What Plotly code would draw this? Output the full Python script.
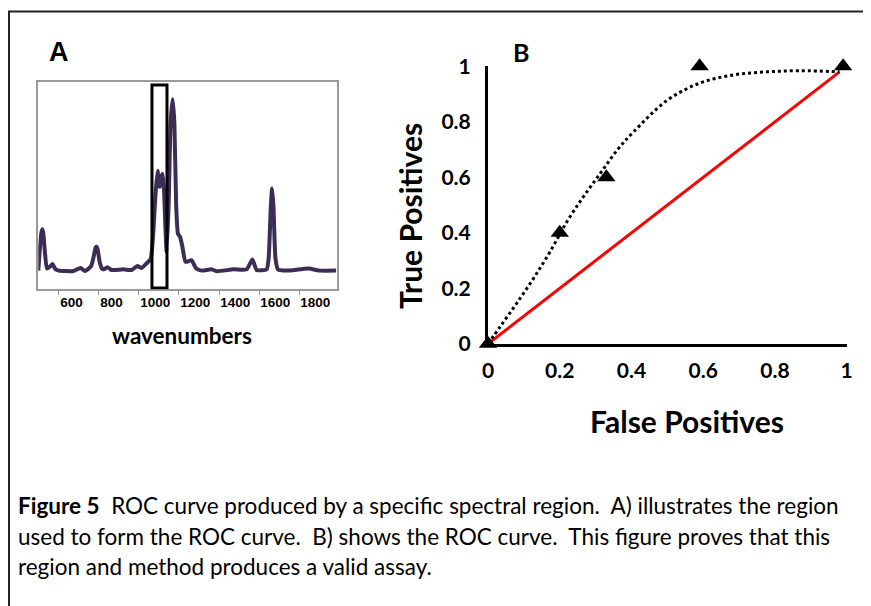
import plotly.graph_objects as go

W, H = 871, 606
OFF = 8  # page body margin of the html page

# ---------- Panel A: spectrum ----------
wavenumbers = [497, 505, 512, 517, 522, 530, 540, 555, 568, 582, 600, 672, 708, 730, 760, 772, 783, 788, 793, 804, 815, 825,
               842, 863, 922, 963, 992, 1013, 1038, 1058, 1070, 1082, 1093, 1100, 1105, 1111, 1118, 1125, 1132, 1138,
               1148, 1158, 1168, 1177, 1186, 1195, 1205, 1217, 1233, 1263, 1285, 1313, 1363, 1388, 1472,
               1538, 1567, 1588, 1638, 1648, 1658, 1665, 1672, 1682, 1695, 1738, 1847, 1905, 1985]
intensity = [0.09, 0.2, 0.27, 0.289, 0.27, 0.18, 0.1, 0.109, 0.122, 0.098, 0.09, 0.088, 0.103, 0.088, 0.11, 0.15, 0.2,
             0.205, 0.195, 0.13, 0.1, 0.096, 0.106, 0.093, 0.096, 0.093, 0.112, 0.103, 0.125, 0.145, 0.25, 0.45,
             0.571, 0.5, 0.494, 0.54, 0.555, 0.48, 0.3, 0.181, 0.4, 0.8, 0.917, 0.8, 0.4, 0.267, 0.254, 0.205,
             0.132, 0.14, 0.101, 0.09, 0.096, 0.087, 0.096, 0.096, 0.144, 0.093, 0.096, 0.15, 0.38, 0.485, 0.4,
             0.15, 0.095, 0.09, 0.1, 0.09, 0.09]
region = [1065, 1140]
spectrum_ticks = [600, 800, 1000, 1200, 1400, 1600, 1800]

# ---------- Panel B: ROC ----------
fp_points = [0, 0.2, 0.33, 0.59, 0.99]
tp_points = [0, 0.4, 0.6, 1.0, 1.0]
trend_fp = [0, 0.034, 0.08, 0.127, 0.173, 0.22, 0.266, 0.313, 0.36, 0.406, 0.5, 0.592, 0.685, 0.778, 0.87, 0.98]
trend_tp = [0, 0.062, 0.146, 0.236, 0.332, 0.44, 0.53, 0.614, 0.698, 0.764, 0.878, 0.94, 0.969, 0.98, 0.984, 0.98]
chance_fp = [0, 0.98]
chance_tp = [0, 0.98]
roc_ticks = [0, 0.2, 0.4, 0.6, 0.8, 1]
roc_ticktext = ["0", "0.2", "0.4", "0.6", "0.8", "1"]

caption_lines = [
    "<b>Figure 5</b>  ROC curve produced by a specific spectral region.  A) illustrates the region",
    "used to form the ROC curve.  B) shows the ROC curve.  This figure proves that this",
    "region and method produces a valid assay.",
]


def px(x):
    return (x - OFF) / W


def py(y):
    return 1 - (y - OFF) / H


fig = go.Figure()

fig.add_trace(go.Scatter(
    x=wavenumbers, y=intensity, mode="lines",
    line=dict(color="#3b2d55", width=4, shape="spline", smoothing=0.5),
    xaxis="x", yaxis="y", hoverinfo="skip", showlegend=False,
))

fig.add_trace(go.Scatter(
    x=chance_fp, y=chance_tp, mode="lines",
    line=dict(color="#ff0000", width=3),
    xaxis="x2", yaxis="y2", showlegend=False, cliponaxis=False,
))
fig.add_trace(go.Scatter(
    x=trend_fp, y=trend_tp, mode="lines",
    line=dict(color="black", width=3, dash="dot", shape="spline"),
    xaxis="x2", yaxis="y2", showlegend=False, cliponaxis=False,
))
fig.add_trace(go.Scatter(
    x=fp_points, y=tp_points, mode="markers",
    marker=dict(symbol="triangle-up", size=16, color="black"),
    xaxis="x2", yaxis="y2", showlegend=False, cliponaxis=False,
))

lato = "Lato, Carlito, Calibri, sans-serif"

fig.update_layout(
    width=W, height=H, autosize=False,
    margin=dict(l=0, r=0, t=0, b=0, pad=0, autoexpand=False),
    paper_bgcolor="white", plot_bgcolor="white",
    xaxis=dict(
        domain=[px(38.3), px(336.7)], range=[497, 1988], anchor="y",
        showline=True, mirror=True, linecolor="#9a9a9a", linewidth=1.5,
        showgrid=False, zeroline=False,
        tickmode="array", tickvals=spectrum_ticks,
        ticks="outside", ticklen=4, tickcolor="#9a9a9a", tickwidth=1,
        ticklabelposition="outside right",
        tickfont=dict(family="Liberation Sans, Arial", size=13.5, color="black", weight="bold"),
    ),
    yaxis=dict(
        domain=[py(289.3), py(81.7)], range=[0, 1], anchor="x",
        showline=True, mirror=True, linecolor="#9a9a9a", linewidth=1.5,
        showgrid=False, zeroline=False, showticklabels=False, ticks="",
    ),
    xaxis2=dict(
        domain=[px(488), px(846.7)], range=[0, 1], anchor="y2",
        showline=True, linecolor="black", linewidth=3,
        showgrid=False, zeroline=False, ticks="",
        tickmode="array", tickvals=roc_ticks, ticktext=roc_ticktext,
        ticklabelstandoff=6,
        tickfont=dict(family=lato, size=21, color="black", weight="bold"),
    ),
    yaxis2=dict(
        domain=[py(343.8), py(66.3)], range=[0, 1], anchor="x2",
        showline=True, linecolor="black", linewidth=3,
        showgrid=False, zeroline=False, ticks="",
        tickmode="array", tickvals=roc_ticks, ticktext=roc_ticktext,
        ticklabelstandoff=10,
        tickfont=dict(family=lato, size=21, color="black", weight="bold"),
    ),
)

# highlighted region in panel A
fig.add_shape(type="rect", xref="x", yref="y",
              x0=region[0], x1=region[1], y0=0.006, y1=0.984,
              line=dict(color="black", width=3), fillcolor="rgba(0,0,0,0)")

# outer figure border (left and top)
fig.add_shape(type="path", xref="paper", yref="paper",
              path=f"M {px(9)} {py(630)} L {px(9)} {py(11.5)} L {px(890)} {py(11.5)}",
              line=dict(color="#222222", width=2))

ann = []
ann.append(dict(text="A", x=px(59), y=py(52), font=dict(family="Liberation Sans, Arial", size=27, color="black", weight="bold")))
ann.append(dict(text="B", x=px(520.5), y=py(52), font=dict(family=lato, size=25, color="black", weight="bold")))
ann.append(dict(text="wavenumbers", x=px(182), y=py(335), font=dict(family=lato, size=22.5, color="black", weight="bold")))
ann.append(dict(text="True Positives", x=px(410), y=py(216), textangle=-90,
                font=dict(family=lato, size=30, color="black", weight="bold")))
ann.append(dict(text="False Positives", x=px(686.7), y=py(421), font=dict(family=lato, size=30, color="black", weight="bold")))
for i, (line, yy) in enumerate(zip(caption_lines, [505, 536, 566])):
    ann.append(dict(text=line, x=px(16), y=py(yy), xanchor="left",
                    font=dict(family=lato, size=22.5, color="black")))

for a in ann:
    a.setdefault("xanchor", "center")
    a.update(xref="paper", yref="paper", yanchor="middle", showarrow=False)
    fig.add_annotation(**a)

fig.write_html("out.html")
